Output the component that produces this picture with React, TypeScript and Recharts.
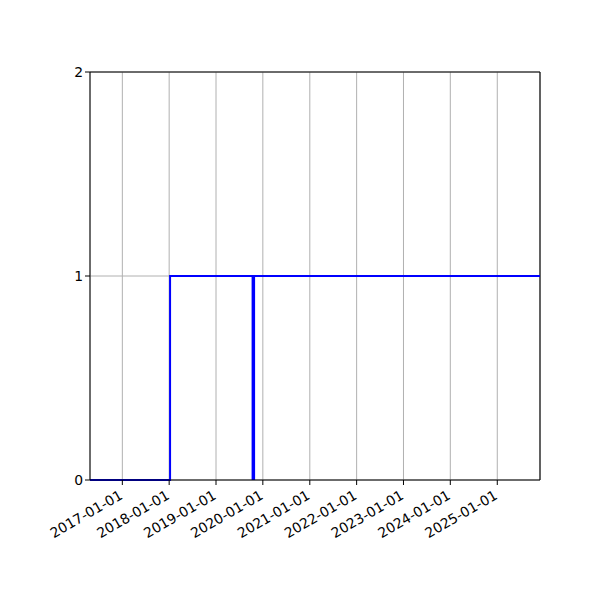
import React from 'react';
import { LineChart, Line, XAxis, YAxis, CartesianGrid, ReferenceLine } from 'recharts';

const day = (y: number, m: number, d: number) => Date.UTC(y, m - 1, d);

// x range of the plot
const X_START = day(2016, 4, 24);
const X_END = day(2025, 11, 30);

// step series: 0 until the switch date, then 1
const stepDates = [X_START, day(2018, 1, 8), X_END];
const stepValues = [0, 1, 1];

// single vertical marker
const markerDate = day(2019, 10, 19);
const markerValues = [0, 1];

const yearTicks = [2017, 2018, 2019, 2020, 2021, 2022, 2023, 2024, 2025];
const yTicks = [0, 1, 2];

const stepData = stepDates.map((t, i) => ({ t, v: stepValues[i] }));
const markerData = markerValues.map(v => ({ t: markerDate, v }));
const xTicks = yearTicks.map(y => day(y, 1, 1));

const fmt = (t: number) => {
  const d = new Date(t);
  return `${d.getUTCFullYear()}-01-01`;
};

const DateTick = (props: any) => {
  const { x, y, payload } = props;
  return (
    <g transform={`translate(${x - 4},${y + 2})`}>
      <text
        transform="rotate(-30)"
        textAnchor="end"
        dy="0.75em"
        fontSize={13.9}
        fill="#000"
        fontFamily="DejaVu Sans"
      >
        {fmt(payload.value)}
      </text>
    </g>
  );
};

export default function App() {
  return (
    <div style={{ position: 'absolute', left: 0, top: 0, width: 600, height: 600, background: '#fff' }}>
      <LineChart width={600} height={600} margin={{ top: 72, right: 60, left: 0, bottom: 0 }}>
        <CartesianGrid stroke="#b0b0b0" strokeWidth={1} />
        <XAxis
          dataKey="t"
          type="number"
          domain={[X_START, X_END]}
          ticks={xTicks}
          interval={0}
          allowDataOverflow
          height={120}
          stroke="#000"
          tickSize={5}
          tick={<DateTick />}
        />
        <YAxis
          dataKey="v"
          type="number"
          domain={[0, 2]}
          ticks={yTicks}
          interval={0}
          width={90}
          stroke="#000"
          tickSize={5}
          tick={{ fontSize: 13.9, fill: '#000', fontFamily: 'DejaVu Sans' }}
        />
        <ReferenceLine y={2} stroke="#000" strokeWidth={1.1} ifOverflow="extendDomain" />
        <ReferenceLine x={X_END} stroke="#000" strokeWidth={1.1} ifOverflow="extendDomain" />
        <Line
          data={stepData}
          dataKey="v"
          type="stepAfter"
          stroke="#0000ff"
          strokeWidth={2}
          dot={false}
          isAnimationActive={false}
        />
        <Line
          data={markerData}
          dataKey="v"
          type="linear"
          stroke="#0000ff"
          strokeWidth={3.5}
          dot={false}
          isAnimationActive={false}
        />
      </LineChart>
    </div>
  );
}
